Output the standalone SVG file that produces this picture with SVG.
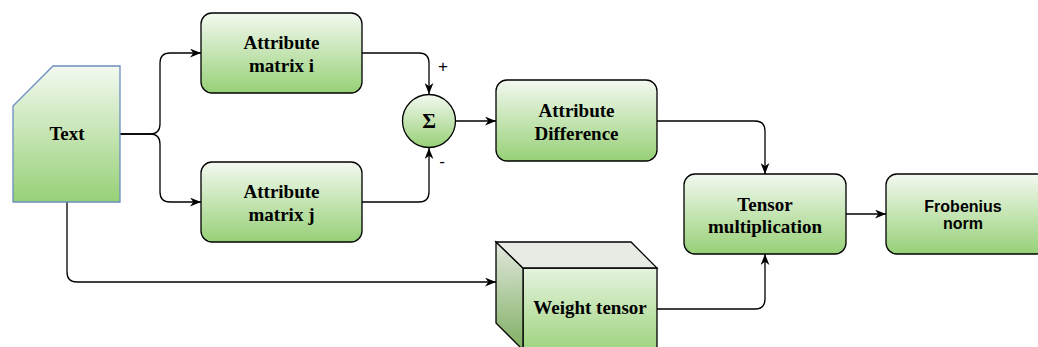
<svg xmlns="http://www.w3.org/2000/svg" width="1038" height="347" viewBox="0 0 1038 347">
<defs>
<linearGradient id="g" x1="0" y1="0" x2="0" y2="1"><stop offset="0" stop-color="#f3f9f0"/><stop offset="1" stop-color="#97d077"/></linearGradient>
<linearGradient id="gf" x1="0" y1="0" x2="0" y2="1"><stop offset="0" stop-color="#e6f3df"/><stop offset="1" stop-color="#9fd47f"/></linearGradient>
<linearGradient id="gl" x1="0" y1="0" x2="0" y2="1"><stop offset="0" stop-color="#e2e8de"/><stop offset="1" stop-color="#7fae62"/></linearGradient>
<marker id="a" viewBox="0 0 10 8" refX="10" refY="4" markerWidth="11" markerHeight="9" markerUnits="userSpaceOnUse" orient="auto"><path d="M0,0 L10,4 L0,8 L3,4 Z" fill="#000"/></marker>
</defs>
<style>
.n{fill:url(#g);stroke:#000;stroke-width:1.3}
.c{fill:none;stroke:#000;stroke-width:1.3;marker-end:url(#a)}
.t{font-family:"Liberation Serif","Times New Roman",serif;font-weight:bold;font-size:19px;text-anchor:middle;fill:#000}
.s{font-family:"Liberation Sans",Arial,sans-serif;font-size:17px;text-anchor:middle;fill:#000}
</style>
<g id="connectors">
<path class="c" d="M120,134 L150,134 Q160,134 160,124 L160,63 Q160,53 170,53 L201,53"/>
<path class="c" d="M120,134 L150,134 Q160,134 160,144 L160,192 Q160,202 170,202 L201,202"/>
<path class="c" d="M362,53 L419,53 Q429,53 429,63 L429,94"/>
<path class="c" d="M362,202 L419,202 Q429,202 429,192 L429,148"/>
<path class="c" d="M456,121 L496,121"/>
<path class="c" d="M657,121 L755,121 Q765,121 765,131 L765,174"/>
<path class="c" d="M657,309 L755,309 Q765,309 765,299 L765,254"/>
<path class="c" d="M846,214 L886,214"/>
<path class="c" d="M67,202 L67,272 Q67,282 77,282 L496,282"/>
</g>
<g id="text-node">
<path d="M53,66 L120,66 L120,202 L13,202 L13,106 Z" fill="url(#g)" stroke="#6c8ebf" stroke-width="1.3"/>
<text class="t" x="67" y="140">Text</text>
</g>
<g id="matrix-i">
<rect class="n" x="201" y="13" width="161" height="80" rx="11"/>
<text class="t" x="281.5" y="49">Attribute</text>
<text class="t" x="281.5" y="72">matrix i</text>
</g>
<g id="matrix-j">
<rect class="n" x="201" y="162" width="161" height="80" rx="11"/>
<text class="t" x="281.5" y="198">Attribute</text>
<text class="t" x="281.5" y="221">matrix j</text>
</g>
<g id="sigma">
<circle class="n" cx="429" cy="121" r="26.5"/>
<text class="t" x="429" y="128" style="font-size:21px">Σ</text>
<text class="s" x="443" y="72">+</text>
<text class="s" x="442" y="167">-</text>
</g>
<g id="attr-diff">
<rect class="n" x="496" y="80" width="161" height="81" rx="11"/>
<text class="t" x="576.5" y="117">Attribute</text>
<text class="t" x="576.5" y="140">Difference</text>
</g>
<g id="tensor-mult">
<rect class="n" x="684" y="174" width="162" height="80" rx="11"/>
<text class="t" x="765" y="211">Tensor</text>
<text class="t" x="765" y="233">multiplication</text>
</g>
<g id="frobenius">
<rect class="n" x="886" y="174" width="162" height="80" rx="11"/>
<text x="963" y="212" style="font-family:'Liberation Sans',Arial,sans-serif;font-weight:bold;font-size:16px;text-anchor:middle">Frobenius</text>
<text x="963" y="229" style="font-family:'Liberation Sans',Arial,sans-serif;font-weight:bold;font-size:16px;text-anchor:middle">norm</text>
</g>
<g id="weight-tensor">
<rect x="523" y="268" width="134" height="82" fill="url(#gf)" stroke="#000" stroke-width="1.3"/>
<path d="M496,242 L523,268 L523,350 L496,323 Z" fill="url(#gl)" stroke="#000" stroke-width="1.3"/>
<path d="M496,242 L631,242 L657,268 L523,268 Z" fill="#e7ebe3" stroke="#000" stroke-width="1.3"/>
<text class="t" x="590" y="314">Weight tensor</text>
</g>
</svg>
